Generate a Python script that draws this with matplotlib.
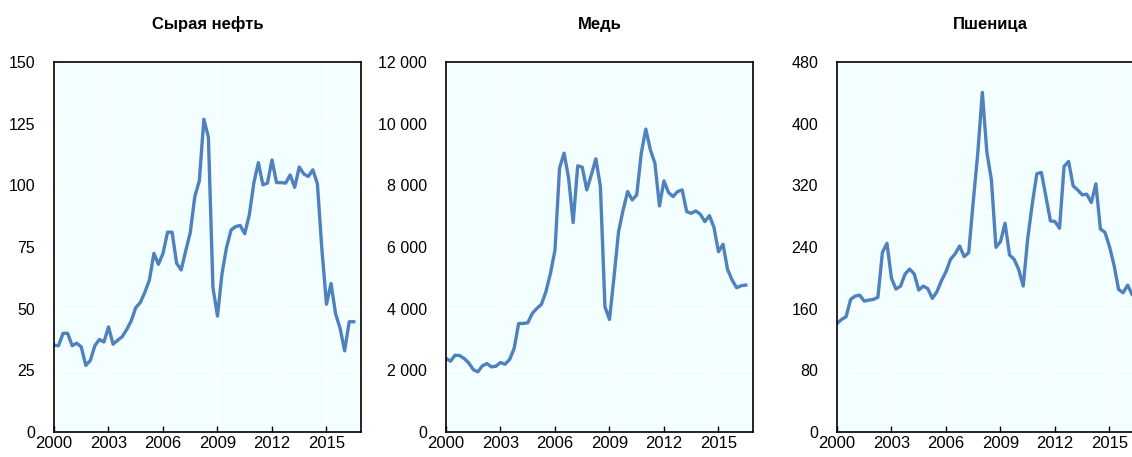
import numpy as np
import matplotlib
matplotlib.use("Agg")
from matplotlib import pyplot as plt
from matplotlib.ticker import FuncFormatter

plt.rcParams['font.family'] = ['Liberation Sans', 'DejaVu Sans']

# Quarterly data, 2000Q1 .. 2016Q3
quarters = 2000 + np.arange(67) * 0.25

oil = [35.2, 35.0, 40.0, 40.0, 35.0, 36.0, 34.5, 27.0, 29.0, 35.0, 37.5, 36.5,
       42.6, 35.6, 37.2, 38.6, 41.5, 45.0, 50.4, 52.5, 56.6, 61.6, 72.4, 68.0,
       72.4, 81.0, 81.0, 68.4, 65.7, 73.4, 80.8, 95.4, 101.8, 126.8, 119.5, 58.5,
       47.0, 64.3, 74.9, 81.9, 83.3, 83.7, 80.4, 88.0, 100.9, 109.2, 100.2, 100.9,
       110.3, 101.1, 101.1, 100.9, 104.2, 99.2, 107.4, 104.6, 103.6, 106.3, 100.6, 73.8,
       51.8, 60.2, 48.0, 42.0, 32.9, 44.7, 44.7]

copper = [2383, 2296, 2491, 2480, 2383, 2242, 2025, 1950, 2144, 2220, 2112, 2134,
          2253, 2199, 2350, 2708, 3520, 3520, 3541, 3845, 4007, 4137, 4549, 5145,
          5903, 8556, 9044, 8231, 6791, 8632, 8589, 7852, 8339, 8859, 7960, 4061,
          3650, 5036, 6498, 7202, 7798, 7527, 7690, 9044, 9824, 9152, 8719, 7332,
          8144, 7765, 7636, 7798, 7852, 7148, 7094, 7170, 7062, 6823, 7018, 6639,
          5848, 6087, 5274, 4928, 4679, 4744, 4765]

wheat = [140.8, 146.0, 149.5, 172.0, 176.3, 177.6, 169.8, 171.1, 172.0, 174.6, 233.0, 244.8,
         199.3, 185.4, 189.3, 205.0, 211.4, 205.0, 184.1, 189.3, 185.9, 173.3, 182.0, 196.3,
         208.0, 224.0, 231.0, 241.3, 227.5, 232.7, 299.0, 361.8, 440.6, 363.0, 327.0, 239.6,
         247.0, 270.8, 229.6, 224.0, 211.0, 189.3, 251.3, 296.0, 335.0, 336.7, 305.5, 273.8,
         273.0, 264.3, 344.5, 351.0, 319.3, 314.0, 307.6, 308.5, 297.7, 322.0, 263.4, 259.0,
         240.6, 216.6, 185.0, 180.7, 190.6, 178.0, 180.0]

titles = ["Сырая нефть", "Медь", "Пшеница"]
series = [oil, copper, wheat]
y_ticks = [[0, 25, 50, 75, 100, 125, 150],
           [0, 2000, 4000, 6000, 8000, 10000, 12000],
           [0, 80, 160, 240, 320, 400, 480]]
x_ticks = [2000, 2003, 2006, 2009, 2012, 2015]

lefts = [54 / 1132, 446 / 1132, 837 / 1132]
width = 307 / 1132
bottom = 1 - 432 / 457
height = 370 / 457

fig = plt.figure(figsize=(11.32, 4.57), dpi=100)

thousands = FuncFormatter(lambda v, p: f"{int(v):,}".replace(",", " "))

for i in range(3):
    ax = fig.add_axes([lefts[i], bottom, width, height])
    ax.set_facecolor('#F2FEFF')
    ax.plot(quarters, series[i], color='#4F81BD', linewidth=2.4, solid_joinstyle='round')
    ax.set_xlim(2000, 2016.9)
    ax.set_ylim(y_ticks[i][0], y_ticks[i][-1])
    ax.set_yticks(y_ticks[i])
    ax.set_xticks(x_ticks)
    ax.yaxis.set_major_formatter(thousands)
    ax.grid(color='white', linewidth=1.0)
    ax.set_axisbelow(True)
    ax.tick_params(axis='x', direction='in', length=4, width=1, labelsize=12, pad=3)
    ax.tick_params(axis='y', length=0, labelsize=11.5, pad=13.5)
    for s in ax.spines.values():
        s.set_linewidth(1.2)
        s.set_color('black')
    ax.set_title(titles[i], fontsize=12, fontweight='bold', pad=24)

fig.savefig("out.png", dpi=100)
